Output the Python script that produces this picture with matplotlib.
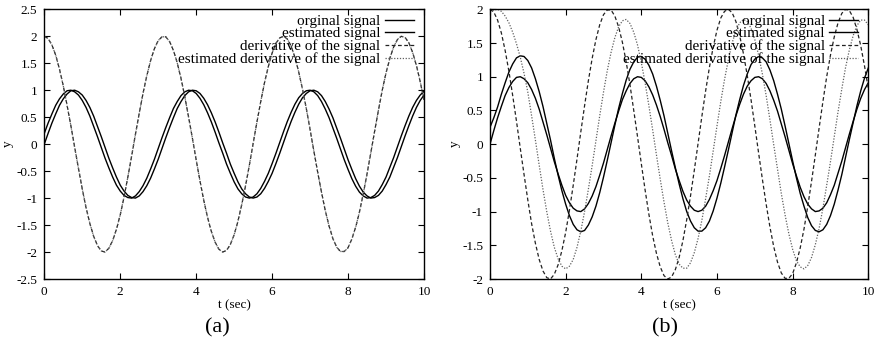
import matplotlib
matplotlib.use("Agg")
import matplotlib.pyplot as plt
from matplotlib.ticker import FuncFormatter, MultipleLocator

plt.rcParams['font.family'] = ['Liberation Serif', 'DejaVu Serif']
plt.rcParams['axes.unicode_minus'] = False

# sample times (sec)
t = [0.0, 0.1, 0.2, 0.3, 0.4, 0.5, 0.6, 0.7, 0.8, 0.9,
     1.0, 1.1, 1.2, 1.3, 1.4, 1.5, 1.6, 1.7, 1.8, 1.9,
     2.0, 2.1, 2.2, 2.3, 2.4, 2.5, 2.6, 2.7, 2.8, 2.9,
     3.0, 3.1, 3.2, 3.3, 3.4, 3.5, 3.6, 3.7, 3.8, 3.9,
     4.0, 4.1, 4.2, 4.3, 4.4, 4.5, 4.6, 4.7, 4.8, 4.9,
     5.0, 5.1, 5.2, 5.3, 5.4, 5.5, 5.6, 5.7, 5.8, 5.9,
     6.0, 6.1, 6.2, 6.3, 6.4, 6.5, 6.6, 6.7, 6.8, 6.9,
     7.0, 7.1, 7.2, 7.3, 7.4, 7.5, 7.6, 7.7, 7.8, 7.9,
     8.0, 8.1, 8.2, 8.3, 8.4, 8.5, 8.6, 8.7, 8.8, 8.9,
     9.0, 9.1, 9.2, 9.3, 9.4, 9.5, 9.6, 9.7, 9.8, 9.9,
     10.0]

# original signal (same in both panels)
signal = [0.00, 0.20, 0.39, 0.56, 0.72, 0.84, 0.93, 0.99, 1.00, 0.97,
          0.91, 0.81, 0.68, 0.52, 0.33, 0.14, -0.06, -0.26, -0.44, -0.61,
          -0.76, -0.87, -0.95, -0.99, -1.00, -0.96, -0.88, -0.77, -0.63, -0.46,
          -0.28, -0.08, 0.12, 0.31, 0.49, 0.66, 0.79, 0.90, 0.97, 1.00,
          0.99, 0.94, 0.85, 0.73, 0.58, 0.41, 0.22, 0.02, -0.17, -0.37,
          -0.54, -0.70, -0.83, -0.92, -0.98, -1.00, -0.98, -0.92, -0.82, -0.69,
          -0.54, -0.36, -0.17, 0.03, 0.23, 0.42, 0.59, 0.74, 0.86, 0.94,
          0.99, 1.00, 0.97, 0.90, 0.79, 0.65, 0.49, 0.30, 0.11, -0.09,
          -0.29, -0.47, -0.64, -0.78, -0.89, -0.96, -1.00, -0.99, -0.95, -0.87,
          -0.75, -0.61, -0.43, -0.25, -0.05, 0.15, 0.34, 0.52, 0.68, 0.81,
          0.91]

# derivative of the signal (same in both panels)
derivative = [2.00, 1.96, 1.84, 1.65, 1.39, 1.08, 0.72, 0.34, -0.06, -0.45,
              -0.83, -1.18, -1.47, -1.71, -1.88, -1.98, -2.00, -1.93, -1.79, -1.58,
              -1.31, -0.98, -0.61, -0.22, 0.18, 0.57, 0.94, 1.27, 1.55, 1.77,
              1.92, 1.99, 1.99, 1.90, 1.74, 1.51, 1.22, 0.88, 0.50, 0.11,
              -0.29, -0.68, -1.04, -1.36, -1.62, -1.82, -1.95, -2.00, -1.97, -1.86,
              -1.68, -1.43, -1.12, -0.77, -0.39, 0.01, 0.41, 0.79, 1.14, 1.44,
              1.69, 1.87, 1.97, 2.00, 1.95, 1.82, 1.61, 1.34, 1.02, 0.66,
              0.27, -0.13, -0.52, -0.89, -1.23, -1.52, -1.75, -1.91, -1.99, -1.99,
              -1.92, -1.76, -1.54, -1.26, -0.92, -0.55, -0.16, 0.24, 0.63, 1.00,
              1.32, 1.59, 1.80, 1.94, 2.00, 1.98, 1.88, 1.70, 1.46, 1.16,
              0.82]

# panel (a) estimates
est_signal_a = [0.20, 0.39, 0.56, 0.72, 0.84, 0.93, 0.99, 1.00, 0.97, 0.91,
                0.81, 0.68, 0.52, 0.33, 0.14, -0.06, -0.26, -0.44, -0.61, -0.76,
                -0.87, -0.95, -0.99, -1.00, -0.96, -0.88, -0.77, -0.63, -0.46, -0.28,
                -0.08, 0.12, 0.31, 0.49, 0.66, 0.79, 0.90, 0.97, 1.00, 0.99,
                0.94, 0.85, 0.73, 0.58, 0.41, 0.22, 0.02, -0.17, -0.37, -0.54,
                -0.70, -0.83, -0.92, -0.98, -1.00, -0.98, -0.92, -0.82, -0.69, -0.54,
                -0.36, -0.17, 0.03, 0.23, 0.42, 0.59, 0.74, 0.86, 0.94, 0.99,
                1.00, 0.97, 0.90, 0.79, 0.65, 0.49, 0.30, 0.11, -0.09, -0.29,
                -0.47, -0.64, -0.78, -0.89, -0.96, -1.00, -0.99, -0.95, -0.87, -0.75,
                -0.61, -0.43, -0.25, -0.05, 0.15, 0.34, 0.52, 0.68, 0.81, 0.91,
                0.98]

est_deriv_a = [2.00, 1.96, 1.84, 1.65, 1.39, 1.08, 0.72, 0.34, -0.06, -0.45,
               -0.83, -1.18, -1.47, -1.71, -1.88, -1.98, -2.00, -1.93, -1.79, -1.58,
               -1.31, -0.98, -0.61, -0.22, 0.18, 0.57, 0.94, 1.27, 1.55, 1.77,
               1.92, 1.99, 1.99, 1.90, 1.74, 1.51, 1.22, 0.88, 0.50, 0.11,
               -0.29, -0.68, -1.04, -1.36, -1.62, -1.82, -1.95, -2.00, -1.97, -1.86,
               -1.68, -1.43, -1.12, -0.77, -0.39, 0.01, 0.41, 0.79, 1.14, 1.44,
               1.69, 1.87, 1.97, 2.00, 1.95, 1.82, 1.61, 1.34, 1.02, 0.66,
               0.27, -0.13, -0.52, -0.89, -1.23, -1.52, -1.75, -1.91, -1.99, -1.99,
               -1.92, -1.76, -1.54, -1.26, -0.92, -0.55, -0.16, 0.24, 0.63, 1.00,
               1.32, 1.59, 1.80, 1.94, 2.00, 1.98, 1.88, 1.70, 1.46, 1.16,
               0.82]

# panel (b) estimates
est_signal_b = [0.25, 0.39, 0.55, 0.74, 0.91, 1.07, 1.19, 1.28, 1.31, 1.30,
                1.24, 1.13, 0.97, 0.78, 0.56, 0.31, 0.06, -0.21, -0.46, -0.69,
                -0.89, -1.06, -1.19, -1.27, -1.30, -1.28, -1.20, -1.08, -0.92, -0.72,
                -0.49, -0.24, 0.02, 0.28, 0.53, 0.75, 0.95, 1.11, 1.22, 1.29,
                1.30, 1.26, 1.17, 1.04, 0.86, 0.65, 0.42, 0.16, -0.10, -0.35,
                -0.59, -0.81, -1.00, -1.14, -1.24, -1.29, -1.29, -1.24, -1.14, -0.99,
                -0.80, -0.58, -0.34, -0.09, 0.17, 0.43, 0.66, 0.87, 1.04, 1.18,
                1.26, 1.30, 1.28, 1.22, 1.10, 0.94, 0.74, 0.52, 0.27, 0.01,
                -0.25, -0.50, -0.73, -0.92, -1.09, -1.21, -1.28, -1.30, -1.27, -1.19,
                -1.06, -0.89, -0.68, -0.45, -0.19, 0.07, 0.32, 0.57, 0.79, 0.98,
                1.13]

est_deriv_b = [1.96, 1.99, 2.00, 1.97, 1.90, 1.80, 1.66, 1.49, 1.29, 1.05,
               0.77, 0.42, 0.06, -0.31, -0.67, -1.00, -1.29, -1.53, -1.70, -1.81,
               -1.85, -1.81, -1.71, -1.53, -1.29, -1.00, -0.67, -0.32, 0.05, 0.42,
               0.77, 1.09, 1.36, 1.58, 1.74, 1.83, 1.85, 1.79, 1.66, 1.47,
               1.21, 0.91, 0.57, 0.21, -0.16, -0.52, -0.86, -1.17, -1.43, -1.64,
               -1.78, -1.84, -1.84, -1.76, -1.61, -1.40, -1.13, -0.81, -0.47, -0.10,
               0.27, 0.63, 0.96, 1.25, 1.50, 1.68, 1.80, 1.85, 1.82, 1.72,
               1.55, 1.32, 1.04, 0.72, 0.36, -0.01, -0.37, -0.73, -1.05, -1.33,
               -1.56, -1.73, -1.82, -1.85, -1.80, -1.68, -1.49, -1.25, -0.95, -0.61,
               -0.26, 0.11, 0.48, 0.82, 1.14, 1.40, 1.61, 1.76, 1.84, 1.84,
               1.77]

labels = ["orginal signal", "estimated signal",
          "derivative of the signal", "estimated derivative of the signal"]
captions = ["(a)", "(b)"]
ylims = [(-2.5, 2.5), (-2.0, 2.0)]

W, H = 879, 342
fig = plt.figure(figsize=(W / 100, H / 100), dpi=100)
ax_a = fig.add_axes([44.3 / W, 63 / H, 379.7 / W, 269.7 / H])
ax_b = fig.add_axes([490 / W, 63 / H, 378.3 / W, 269.7 / H])

fmt = FuncFormatter(lambda v, p: f"{v:g}")

panels = [(ax_a, est_signal_a, est_deriv_a, -30 / 379.7),
          (ax_b, est_signal_b, est_deriv_b, -29 / 378.3)]
for i, (ax, est_sig, est_der, ylab_x) in enumerate(panels):
    ax.plot(t, signal, color='black', lw=1.0, label=labels[0])
    ax.plot(t, est_sig, color='black', lw=1.0, label=labels[1])
    ax.plot(t, derivative, color='#222222', lw=0.9, ls=(0, (3.0, 2.0)), label=labels[2])
    ax.plot(t, est_der, color='#606060', lw=0.9, ls=(0, (1.0, 1.3)), label=labels[3])
    ax.set_xlim(0, 10)
    ax.set_ylim(*ylims[i])
    ax.xaxis.set_major_locator(MultipleLocator(2))
    ax.yaxis.set_major_locator(MultipleLocator(0.5))
    ax.xaxis.set_major_formatter(fmt)
    ax.yaxis.set_major_formatter(fmt)
    ax.tick_params(direction='in', top=True, right=True, length=4, width=0.8,
                   labelsize=9.5, pad=5)
    for s in ax.spines.values():
        s.set_linewidth(1.0)
    ax.set_xlabel("t (sec)", fontsize=9.5, labelpad=1)
    ax.set_ylabel("y", fontsize=9.5)
    ax.yaxis.set_label_coords(ylab_x, 0.5)
    leg = ax.legend(loc='upper right', bbox_to_anchor=(0.974, 0.982),
                    frameon=False, markerfirst=False, fontsize=11,
                    handlelength=1.9, handletextpad=0.3, labelspacing=-0.07,
                    borderpad=0, borderaxespad=0)

fig.text(217 / W, 1 - 328 / H, captions[0], ha='center', va='center', fontsize=16)
fig.text(665 / W, 1 - 328 / H, captions[1], ha='center', va='center', fontsize=16)

fig.savefig("out.png", dpi=100)
